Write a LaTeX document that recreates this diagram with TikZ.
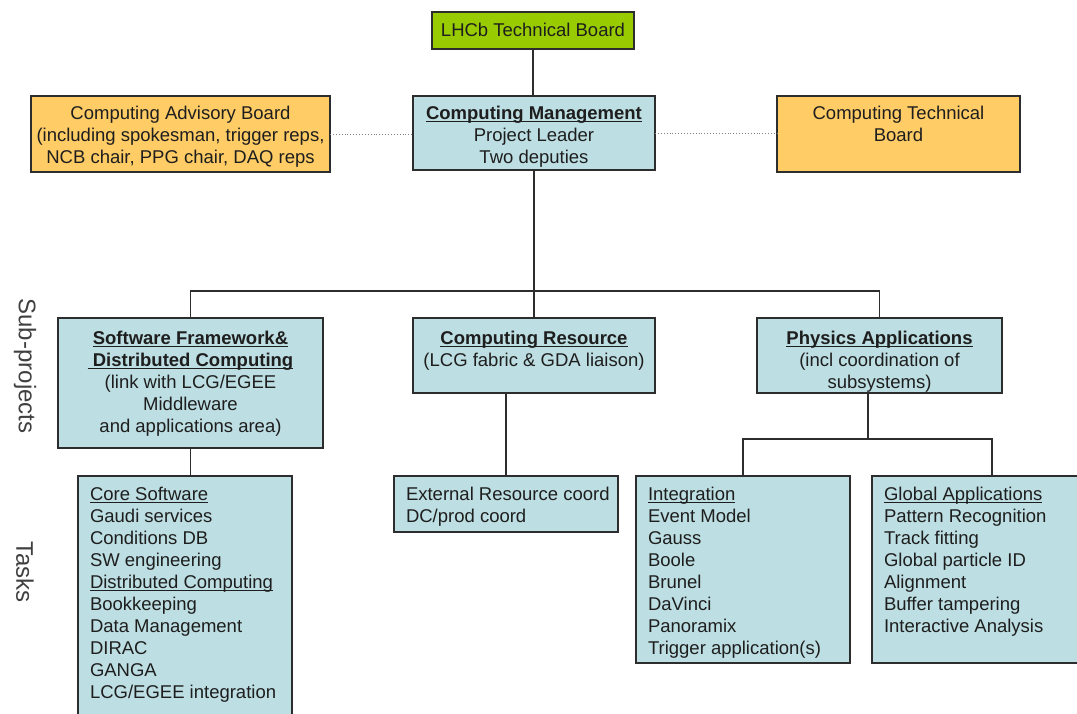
\documentclass[tikz,border=0pt]{standalone}
\usepackage{fontspec}
\setmainfont{Liberation Sans}
\definecolor{bfill}{RGB}{189,222,226}
\definecolor{ofill}{RGB}{255,204,102}
\definecolor{gfill}{RGB}{153,204,0}
\definecolor{ink}{RGB}{30,30,30}
\definecolor{edge}{RGB}{45,45,45}
\newcommand{\myul}[1]{\leavevmode\setbox0=\hbox{#1}\rlap{\rule[-2.8pt]{\wd0}{1.5pt}}\box0}
\newcommand{\cbox}[4]{\parbox[t][#2][t]{#1}{\vspace*{#3}\centering\strut #4}}
\newcommand{\lbox}[4]{\parbox[t][#2][t]{#1}{\vspace*{#3}\raggedright\leftskip=12pt\strut #4}}
\begin{document}
\begin{tikzpicture}[x=1pt,y=-1pt,
  box/.style={draw=edge, line width=1.4pt, inner sep=0pt, outer sep=0pt, anchor=north west, text=ink, font=\fontsize{18.5}{22}\selectfont},
  conn/.style={draw=edge, line width=1.3pt},
  dots/.style={draw=gray, line width=0.9pt, dotted},
  side/.style={rotate=-90, text=ink!85, font=\fontsize{24}{28}\selectfont}]
\useasboundingbox (0,0) rectangle (1077,713);
\clip (0,0) rectangle (1077,713);
\fill[white] (0,0) rectangle (1077,713);

% top level
\node[box, fill=gfill] (lhcb) at (432,12) {\cbox{202pt}{37pt}{9pt}{LHCb Technical Board}};
\node[box, fill=ofill] (adv) at (31,96) {\cbox{299pt}{76pt}{8.2pt}{Computing Advisory Board\\(including spokesman, trigger reps,\\NCB chair, PPG chair, DAQ reps}};
\node[box, fill=bfill] (cm) at (413,96) {\cbox{242pt}{74pt}{8.2pt}{\myul{\textbf{Computing Management}}\\Project Leader\\Two deputies}};
\node[box, fill=ofill] (ctb) at (777,96) {\cbox{243pt}{76pt}{8.2pt}{Computing Technical\\Board}};

% sub-projects
\node[box, fill=bfill] (sf) at (58,318) {\cbox{265pt}{130pt}{11pt}{\myul{\textbf{Software Framework\&}}\\\myul{\textbf{\ Distributed Computing}}\\(link with LCG/EGEE\\Middleware\\and applications area)}};
\node[box, fill=bfill] (cr) at (413,318) {\cbox{242pt}{75pt}{11pt}{\myul{\textbf{Computing Resource}}\\(LCG fabric \& GDA liaison)}};
\node[box, fill=bfill] (pa) at (757,318) {\cbox{245pt}{75pt}{11pt}{\myul{\textbf{Physics Applications}}\\(incl coordination of\\subsystems)}};

% tasks
\node[box, fill=bfill] (core) at (78,476) {\lbox{214pt}{260pt}{9.2pt}{\myul{Core Software}\\Gaudi services\\Conditions DB\\SW engineering\\\myul{Distributed Computing}\\Bookkeeping\\Data Management\\DIRAC\\GANGA\\LCG/EGEE integration}};
\node[box, fill=bfill] (ext) at (394,476) {\lbox{224pt}{56pt}{9.2pt}{External Resource coord\\DC/prod coord}};
\node[box, fill=bfill] (integ) at (636,476) {\lbox{214pt}{187pt}{9.2pt}{\myul{Integration}\\Event Model\\Gauss\\Boole\\Brunel\\DaVinci\\Panoramix\\Trigger application(s)}};
\node[box, fill=bfill] (glob) at (872,476) {\lbox{240pt}{187pt}{9.2pt}{\myul{Global Applications}\\Pattern Recognition\\Track fitting\\Global particle ID\\Alignment\\Buffer tampering\\Interactive Analysis}};

% side labels
\node[side] (lsub) at (25,366) {Sub-projects};
\node[side] (ltask) at (25,572) {Tasks};

% connectors
\coordinate (bus) at (534,291);
\coordinate (sub) at (868,439);
\draw[conn] (lhcb.south) -- (lhcb.south |- cm.north);
\draw[conn] (cm.south) -- (cm.south |- bus);
\draw[conn] (sf.north) -- (sf.north |- bus) -- (pa.north |- bus) -- (pa.north);
\draw[conn] (cr.north) -- (cr.north |- bus);
\draw[dots] (adv.east) -- (adv.east -| cm.west);
\draw[dots] (cm.east) -- (cm.east -| ctb.west);
\draw[conn] (sf.south) -- (sf.south |- core.north);
\draw[conn] (ext.north) -- (ext.north |- cr.south);
\draw[conn] (sub |- pa.south) -- (sub);
\draw[conn] (integ.north) -- (integ.north |- sub) -- (glob.north |- sub) -- (glob.north);
\end{tikzpicture}
\end{document}
